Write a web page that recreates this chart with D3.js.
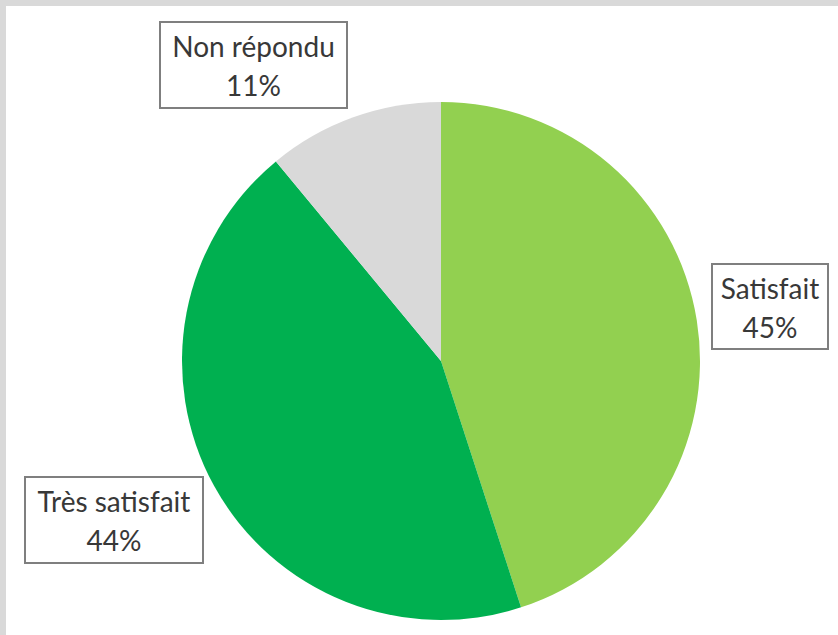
<!DOCTYPE html>
<html>
<head>
<meta charset="utf-8">
<script src="https://cdn.jsdelivr.net/npm/d3@7"></script>
<style>
  html, body { margin: 0; padding: 0; background: #fff; }
  svg { display: block; }
</style>
</head>
<body>
<svg id="chart" width="838" height="635"></svg>
<script>
// Satisfaction survey: share of answers per category
const categories = ["Satisfait", "Très satisfait", "Non répondu"];
const values = [45, 44, 11];
const colors = ["#92d050", "#00b050", "#d9d9d9"];
// label box for each slice: [left, top, width, height]
const labelBoxes = [
  [712, 264, 116, 85],
  [25, 477, 178, 86],
  [160, 22, 187, 86]
];

const svg = d3.select("#chart");
const W = 838, H = 635;

// light grey frame along the top and left edges
svg.append("rect").attr("x", 0).attr("y", 0).attr("width", W).attr("height", H).attr("fill", "#d9d9d9");
svg.append("rect").attr("x", 6).attr("y", 6).attr("width", W - 6).attr("height", H - 6).attr("fill", "#fff");

const cx = 441, cy = 361, r = 259;

const pie = d3.pie().sort(null).value(d => d.value);
const arc = d3.arc().innerRadius(0).outerRadius(r);
const data = categories.map((c, i) => ({ name: c, value: values[i], color: colors[i] }));

const g = svg.append("g").attr("transform", `translate(${cx},${cy})`);
g.selectAll("path")
  .data(pie(data))
  .join("path")
  .attr("d", arc)
  .attr("fill", d => d.data.color);

// boxed labels
const labels = svg.append("g")
  .style("font-family", "Lato, 'Open Sans', sans-serif")
  .style("font-size", "28px")
  .attr("fill", "#383838");

data.forEach((d, i) => {
  const [x, y, w, h] = labelBoxes[i];
  labels.append("rect")
    .attr("x", x).attr("y", y).attr("width", w).attr("height", h)
    .attr("fill", "#fff").attr("stroke", "#7f7f7f").attr("stroke-width", 2);
  const t = labels.append("text").attr("text-anchor", "middle");
  t.append("tspan").attr("x", x + w / 2).attr("y", y + 35).text(d.name);
  t.append("tspan").attr("x", x + w / 2).attr("y", y + 74).text(d.value + "%");
});
</script>
</body>
</html>
